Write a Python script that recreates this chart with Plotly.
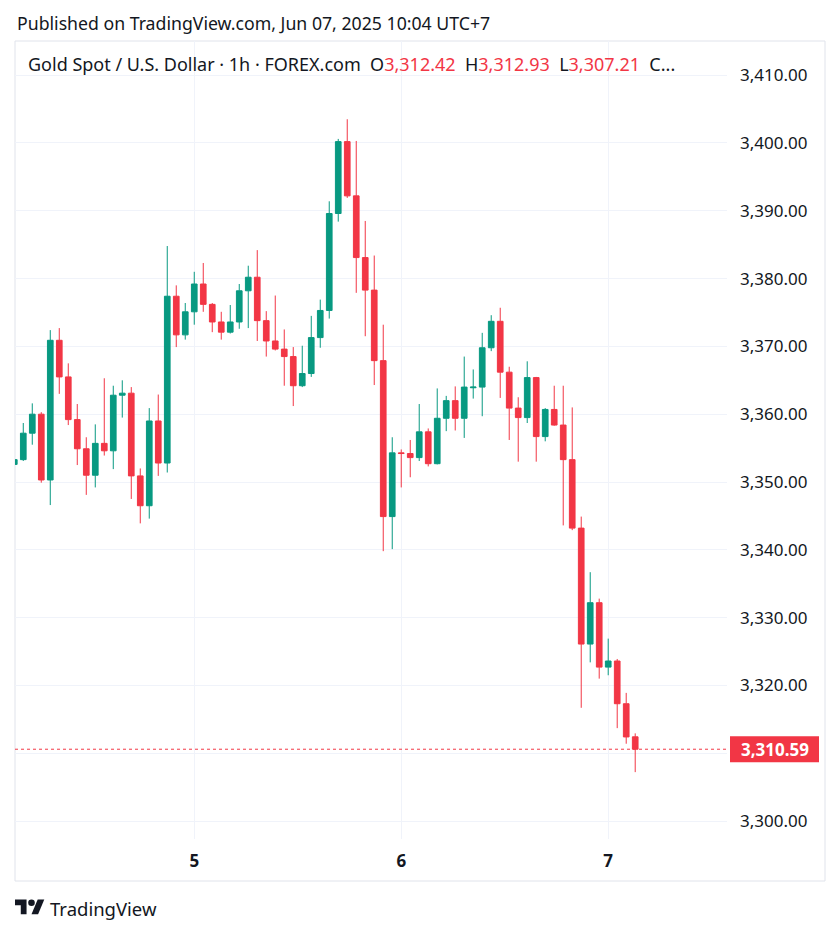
import plotly.graph_objects as go

# ---------------- data (XAUUSD 1h, FOREX.com) ----------------
opens = [3352.6, 3353.3, 3357.2, 3360.0, 3350.3, 3370.9, 3365.5, 3359.2, 3354.9, 3351.0,
         3355.7, 3354.6, 3362.8, 3363.1, 3350.9, 3346.5, 3359.0, 3352.8, 3377.4, 3371.7,
         3375.1, 3379.2, 3376.2, 3373.6, 3372.1, 3373.6, 3378.2, 3380.2, 3373.8, 3370.8,
         3369.6, 3368.5, 3364.2, 3366.0, 3371.3, 3375.3, 3389.6, 3400.2, 3392.2, 3383.1,
         3378.3, 3367.9, 3344.9, 3354.3, 3354.2, 3353.6, 3357.4, 3352.7, 3359.4, 3362.0,
         3359.4, 3363.9, 3364.0, 3369.8, 3373.7, 3366.2, 3360.9, 3359.5, 3365.4, 3356.7,
         3360.7, 3358.4, 3353.3, 3343.2, 3326.1, 3332.2, 3322.7, 3323.6, 3317.3, 3312.42]
highs = [3353.6, 3358.7, 3361.6, 3360.3, 3372.4, 3372.7, 3367.5, 3361.5, 3356.6, 3358.5,
         3365.3, 3364.2, 3365.0, 3364.0, 3352.0, 3360.9, 3362.9, 3384.8, 3379.0, 3376.4,
         3381.0, 3382.3, 3376.4, 3375.1, 3376.1, 3379.2, 3381.9, 3384.2, 3375.2, 3377.5,
         3372.5, 3369.9, 3370.1, 3374.5, 3376.9, 3391.4, 3400.6, 3403.5, 3400.3, 3388.5,
         3383.4, 3373.2, 3356.6, 3354.8, 3356.2, 3361.5, 3357.9, 3363.8, 3362.7, 3364.1,
         3368.5, 3366.6, 3372.0, 3374.6, 3375.7, 3367.0, 3362.5, 3367.8, 3365.5, 3360.9,
         3364.2, 3364.2, 3361.0, 3344.9, 3336.7, 3332.8, 3326.9, 3323.9, 3318.9, 3312.93]
lows = [3352.2, 3353.1, 3355.5, 3349.9, 3346.6, 3363.0, 3358.4, 3352.5, 3348.1, 3349.2,
        3353.9, 3351.9, 3359.5, 3347.5, 3343.9, 3344.6, 3350.9, 3351.4, 3369.9, 3371.0,
        3373.2, 3375.1, 3372.1, 3371.0, 3371.9, 3372.6, 3372.7, 3370.8, 3368.5, 3369.4,
        3364.2, 3361.2, 3364.0, 3365.5, 3369.8, 3374.1, 3388.4, 3391.9, 3377.9, 3371.5,
        3364.3, 3339.8, 3340.1, 3349.2, 3350.7, 3353.1, 3352.3, 3352.6, 3357.5, 3357.6,
        3356.5, 3362.3, 3359.7, 3369.3, 3362.4, 3356.2, 3353.0, 3358.7, 3353.0, 3356.0,
        3358.3, 3343.6, 3342.9, 3316.7, 3323.4, 3321.0, 3321.5, 3313.7, 3311.4, 3307.21]
closes = [3353.3, 3357.2, 3360.0, 3350.3, 3370.9, 3365.5, 3359.2, 3354.9, 3351.0, 3355.7,
          3354.6, 3362.8, 3363.1, 3350.9, 3346.5, 3359.0, 3352.8, 3377.4, 3371.7, 3375.1,
          3379.2, 3376.2, 3373.6, 3372.1, 3373.6, 3378.2, 3380.2, 3373.8, 3370.8, 3369.6,
          3368.5, 3364.2, 3366.0, 3371.3, 3375.3, 3389.6, 3400.2, 3392.2, 3383.1, 3378.3,
          3367.9, 3344.9, 3354.3, 3354.2, 3353.6, 3357.4, 3352.7, 3359.4, 3362.0, 3359.4,
          3364.0, 3364.0, 3369.8, 3373.7, 3366.2, 3360.9, 3359.5, 3365.4, 3356.7, 3360.7,
          3358.4, 3353.3, 3343.2, 3326.1, 3332.2, 3322.7, 3323.6, 3317.3, 3312.4, 3310.59]
bar_index = list(range(len(opens)))
day_ticks = [20, 43, 66]
day_labels = ["5", "6", "7"]
price_ticks = [3300 + 10 * k for k in range(12)]

UP = "#089981"
DN = "#F23645"
TXT = "#131722"
GRID = "#f0f3fa"
FONT = "Noto Sans"

W, H = 840, 934
L, R, T, B = 15, 727, 41, 839


def px(x):
    return (x - L) / (R - L)


def py(y):
    return (B - y) / (B - T)


fig = go.Figure(go.Candlestick(
    x=bar_index, open=opens, high=highs, low=lows, close=closes,
    increasing=dict(line=dict(color=UP, width=1), fillcolor=UP),
    decreasing=dict(line=dict(color=DN, width=1), fillcolor=DN),
    whiskerwidth=0, hoverinfo="skip", showlegend=False,
))

last_close = closes[-1]

# the last-price badge covers the price-scale label it sits on
price_text = ["" if abs(p - last_close) < 3 else f"{p:,.2f}" for p in price_ticks]

shapes = [
    # outer frame
    dict(type="rect", xref="paper", yref="paper", x0=px(15), x1=px(825), y0=py(881), y1=py(41),
         line=dict(color="#e0e3eb", width=1), fillcolor="rgba(0,0,0,0)", layer="below"),
    # last price dotted line
    dict(type="line", xref="paper", yref="y", x0=0, x1=1, y0=last_close, y1=last_close,
         line=dict(color=DN, width=1, dash="dot"), layer="above"),
    # last price label box
    dict(type="rect", xref="paper", yref="y", ysizemode="pixel", yanchor=last_close,
         x0=px(730), x1=px(819), y0=-13, y1=13, line=dict(width=0), fillcolor=DN, layer="above"),
]

# TradingView logo (scaled from its 36x28 glyph)
s = 0.825
ox, oy = 15, 899.5


def lp(X, Y):
    return px(ox + X * s), py(oy + (Y - 4) * s)


def path(points):
    return "M " + " L ".join(f"{a:.5f},{b:.5f}" for a, b in (lp(*p) for p in points)) + " Z"


shapes.append(dict(type="path", xref="paper", yref="paper",
                   path=path([(14, 22), (7, 22), (7, 11), (0, 11), (0, 4), (14, 4)]),
                   fillcolor=TXT, line=dict(width=0)))
shapes.append(dict(type="path", xref="paper", yref="paper",
                   path=path([(28, 22), (20, 22), (27.5, 4), (35.5, 4)]),
                   fillcolor=TXT, line=dict(width=0)))
cx0, cy0 = lp(16, 4)
cx1, cy1 = lp(24, 12)
shapes.append(dict(type="circle", xref="paper", yref="paper", x0=cx0, x1=cx1, y0=cy1, y1=cy0,
                   fillcolor=TXT, line=dict(width=0)))

legend_txt = (
    "Gold Spot / U.S. Dollar · 1h · FOREX.com&nbsp;&nbsp;"
    f"O<span style='color:{DN}'>{opens[-1]:,.2f}</span>&nbsp;&nbsp;"
    f"H<span style='color:{DN}'>{highs[-1]:,.2f}</span>&nbsp;&nbsp;"
    f"L<span style='color:{DN}'>{lows[-1]:,.2f}</span>&nbsp;&nbsp;C..."
)

annotations = [
    dict(text="Published on TradingView.com, Jun 07, 2025 10:04 UTC+7", xref="paper", yref="paper",
         x=px(15), y=py(23), xanchor="left", yanchor="middle", showarrow=False,
         font=dict(family=FONT, size=17.7, color=TXT)),
    dict(text=legend_txt, xref="paper", yref="paper", x=px(26), y=py(64),
         xanchor="left", yanchor="middle", showarrow=False,
         font=dict(family=FONT, size=18, color=TXT)),
    dict(text=f"<b>{last_close:,.2f}</b>", xref="paper", yref="y", x=px(775), y=last_close,
         xanchor="center", yanchor="middle", showarrow=False,
         font=dict(family=FONT, size=17, color="white")),
    dict(text="TradingView", xref="paper", yref="paper", x=px(48), y=py(908),
         xanchor="left", yanchor="middle", showarrow=False,
         font=dict(family=FONT, size=18.5, color=TXT)),
]

fig.update_layout(
    width=W, height=H,
    margin=dict(l=L, r=W - R, t=T, b=H - B, pad=0),
    paper_bgcolor="white", plot_bgcolor="white",
    font=dict(family=FONT, size=17, color=TXT),
    boxgap=0.1, boxgroupgap=0.3,
    shapes=shapes, annotations=annotations,
    showlegend=False,
    xaxis=dict(range=[0.08, 79.2], tickvals=day_ticks,
               ticktext=[f"<b>{d}</b>" for d in day_labels],
               showgrid=True, gridcolor=GRID, gridwidth=1, zeroline=False, showline=False,
               ticks="", ticklabelstandoff=10, tickfont=dict(family=FONT, size=17, color=TXT),
               rangeslider=dict(visible=False), automargin=False, fixedrange=True),
    yaxis=dict(side="right", range=[3297.35, 3415.04], tickvals=price_ticks,
               ticktext=price_text, showgrid=True, gridcolor=GRID, gridwidth=1,
               zeroline=False, showline=False, ticks="", ticklabelstandoff=12,
               tickfont=dict(family=FONT, size=17, color=TXT), automargin=False, fixedrange=True),
)

fig.write_html("out.html")
